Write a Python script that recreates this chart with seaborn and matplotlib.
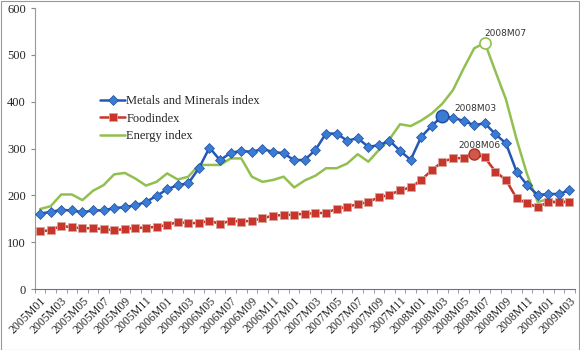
import numpy as np
import pandas as pd
import matplotlib
matplotlib.use("Agg")
import matplotlib.pyplot as plt
import seaborn as sns

# monthly index values, 2005M01 .. 2009M03
months = [f"{p.year}M{p.month:02d}" for p in pd.period_range("2005-01", "2009-03", freq="M")]

metals = [161, 165, 169, 168, 164, 168, 168, 173, 175, 179, 186, 199,
          213, 222, 226, 258, 302, 275, 291, 295, 293, 299, 293, 290,
          275, 276, 297, 332, 332, 317, 322, 304, 307, 317, 295, 276,
          325, 349, 369, 366, 359, 350, 354, 331, 311, 251, 222, 201,
          203, 203, 211]
food = [123, 126, 135, 132, 130, 130, 128, 126, 128, 131, 131, 133,
        137, 143, 141, 141, 146, 139, 146, 144, 146, 151, 157, 158,
        159, 161, 162, 163, 171, 176, 181, 186, 196, 201, 211, 217,
        233, 254, 272, 279, 280, 288, 281, 251, 233, 194, 183, 175,
        186, 186, 186]
energy = [171, 177, 202, 202, 190, 210, 222, 245, 248, 236, 221, 229,
          247, 234, 240, 265, 265, 265, 279, 279, 240, 229, 233, 240,
          217, 232, 242, 258, 258, 268, 288, 272, 297, 320, 352, 348,
          360, 375, 396, 425, 471, 514, 526, 465, 405, 320, 245, 186,
          192, 181, 191]

peaks = {"metals": "2008M03", "food": "2008M06", "energy": "2008M07"}

df = pd.DataFrame({"month": months, "metals": metals, "food": food, "energy": energy})
df["i"] = np.arange(len(df))

sns.set_style("white")
plt.rcParams["font.family"] = ["Liberation Serif", "DejaVu Serif"]

fig = plt.figure(figsize=(5.8, 3.5), dpi=100)
ax = fig.add_axes([0.06, 0.174, 0.931, 0.803])

blue, blue_edge = "#3a7bd5", "#1f4e9c"
red = "#c8352b"
green = "#92c050"

sns.lineplot(data=df, x="i", y="energy", color=green, lw=1.8, ax=ax,
             label="Energy index", zorder=2)
sns.lineplot(data=df, x="i", y="food", color=red, lw=1.8, marker="s",
             markersize=6, markerfacecolor=red, markeredgecolor="#d9a49c",
             markeredgewidth=0.6, ax=ax, label="Foodindex", zorder=3)
sns.lineplot(data=df, x="i", y="metals", color="#2458b8", lw=1.8, marker="D",
             markersize=5, markerfacecolor=blue, markeredgecolor=blue_edge,
             markeredgewidth=0.5, ax=ax, label="Metals and Minerals index", zorder=4)

# highlighted peaks
pm = df[df["month"] == peaks["metals"]].iloc[0]
pf = df[df["month"] == peaks["food"]].iloc[0]
pe = df[df["month"] == peaks["energy"]].iloc[0]
ax.plot(pm["i"], pm["metals"], "o", ms=9, color=blue, mec=blue_edge, zorder=5)
ax.plot(pf["i"], pf["food"], "o", ms=8, color="#d0574c", mec="#b03020", zorder=5)
ax.plot(pe["i"], pe["energy"], "o", ms=8, mfc="white", mec=green, mew=1.2, zorder=5)
lab_kw = dict(fontsize=6.5, family=["DejaVu Sans"], color="#333333")
ax.text(pm["i"] + 1.1, pm["metals"] + 8, peaks["metals"], ha="left", va="bottom", **lab_kw)
ax.text(pf["i"] + 0.5, pf["food"] + 8, peaks["food"], ha="center", va="bottom", **lab_kw)
ax.text(pe["i"], pe["energy"] + 10, peaks["energy"], ha="left", va="bottom", **lab_kw)

ax.set_xlim(-0.5, len(df) - 0.5)
ax.set_ylim(0, 600)
ax.set_yticks(range(0, 601, 100))
ax.set_xticks(df["i"][::2])
ax.set_xticklabels(df["month"][::2], rotation=45, ha="right", rotation_mode="anchor",
                   fontsize=8.5)
ax.set_xticks(np.arange(-0.5, len(df), 1), minor=True)
ax.tick_params(axis="x", which="major", length=0, pad=4)
ax.tick_params(axis="x", which="minor", length=3, color="#888888", bottom=True)
ax.tick_params(axis="y", length=3, color="#888888", left=True, labelsize=9)
ax.set_xlabel("")
ax.set_ylabel("")
for s in ["top", "right"]:
    ax.spines[s].set_visible(False)
ax.spines["left"].set_color("#999999")
ax.spines["bottom"].set_color("#5577aa")

h, l = ax.get_legend_handles_labels()
order = [2, 1, 0]
ax.legend([h[k] for k in order], [l[k] for k in order], loc="upper left",
          bbox_to_anchor=(0.1, 0.73), frameon=False, fontsize=9,
          handlelength=2.0, handletextpad=0.1, labelspacing=0.45)

fig.patches.append(plt.Rectangle((0.001, 0.001), 0.997, 0.995, transform=fig.transFigure,
                                 fill=False, ec="#999999", lw=0.8))
fig.savefig("out.png", dpi=100)
